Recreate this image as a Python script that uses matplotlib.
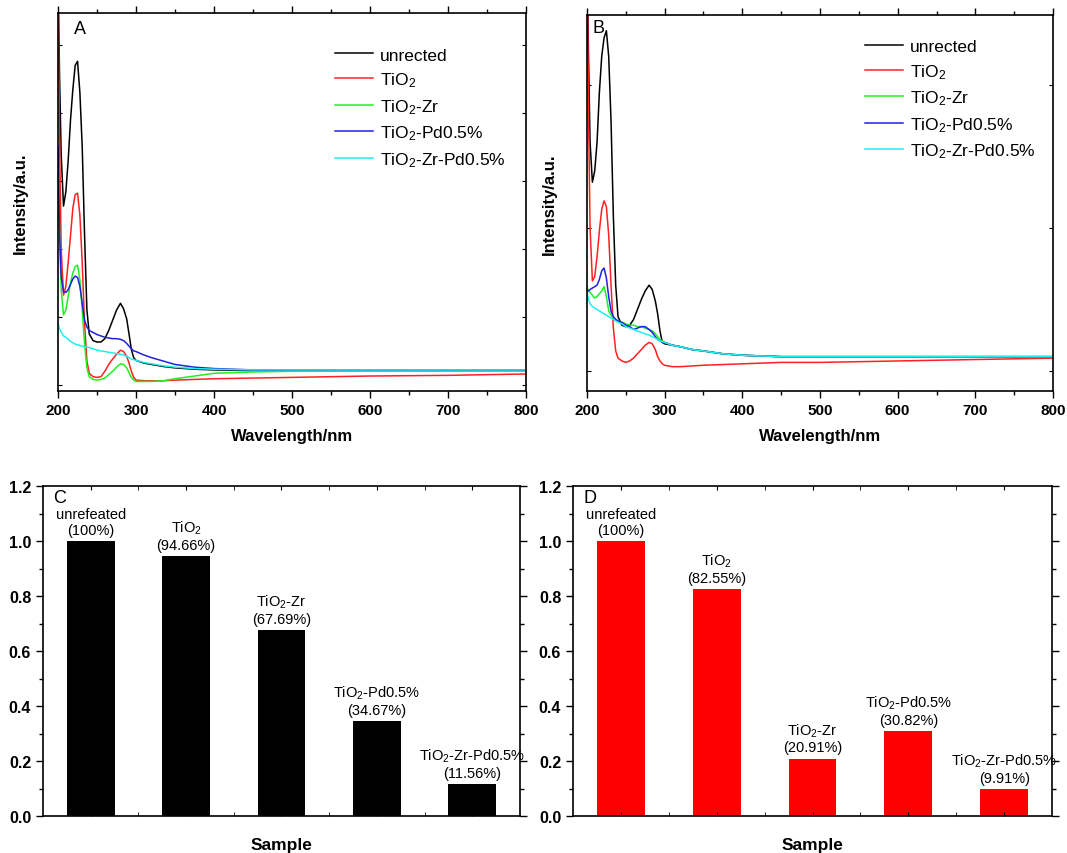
import numpy as np
import matplotlib
matplotlib.use('Agg')
import matplotlib.pyplot as plt
from matplotlib.ticker import MultipleLocator

plt.rcParams['font.family'] = ['Liberation Sans', 'DejaVu Sans']
plt.rcParams['mathtext.fontset'] = 'custom'
plt.rcParams['mathtext.rm'] = 'Liberation Sans'
plt.rcParams['mathtext.it'] = 'Liberation Sans:italic'
plt.rcParams['mathtext.bf'] = 'Liberation Sans:bold'

# UV-vis spectra (arbitrary units)
wavelength = [200, 202, 204, 207, 210, 213, 216, 219, 222, 225, 228, 231, 234, 237, 240,
              245, 250, 255, 260, 265, 270, 275, 280, 284, 288, 291, 294, 297, 300, 310,
              320, 335, 350, 375, 400, 450, 500, 600, 700, 800]

a_unreacted = [6.0, 4.5, 3.4, 2.63, 2.84, 3.3, 3.9, 4.35, 4.7, 4.76, 4.3, 3.5, 2.2, 1.1, 0.75,
               0.65, 0.63, 0.63, 0.68, 0.8, 0.95, 1.1, 1.2, 1.12, 0.97, 0.75, 0.52, 0.4, 0.36, 0.32,
               0.3, 0.27, 0.25, 0.23, 0.22, 0.21, 0.21, 0.21, 0.21, 0.21]
a_tio2 = [6.0, 3.5, 2.0, 1.32, 1.45, 1.8, 2.2, 2.6, 2.8, 2.82, 2.5, 1.8, 0.9, 0.35, 0.17,
          0.12, 0.11, 0.12, 0.2, 0.3, 0.38, 0.45, 0.51, 0.49, 0.42, 0.32, 0.2, 0.11, 0.07, 0.06,
          0.06, 0.06, 0.07, 0.08, 0.09, 0.1, 0.11, 0.13, 0.14, 0.16]
a_tio2_zr = [3.5, 2.2, 1.4, 1.03, 1.1, 1.3, 1.5, 1.65, 1.74, 1.76, 1.55, 1.1, 0.6, 0.25, 0.12,
             0.08, 0.07, 0.08, 0.1, 0.15, 0.2, 0.26, 0.31, 0.3, 0.25, 0.18, 0.11, 0.07, 0.05, 0.05,
             0.05, 0.06, 0.09, 0.13, 0.17, 0.19, 0.2, 0.21, 0.21, 0.22]
a_tio2_pd = [3.5, 2.2, 1.6, 1.37, 1.36, 1.4, 1.48, 1.56, 1.6, 1.58, 1.45, 1.2, 0.95, 0.85, 0.8,
             0.77, 0.74, 0.72, 0.7, 0.69, 0.68, 0.68, 0.67, 0.65, 0.61, 0.57, 0.53, 0.5, 0.49, 0.44,
             0.4, 0.35, 0.3, 0.26, 0.24, 0.22, 0.22, 0.22, 0.22, 0.22]
a_tio2_zr_pd = [0.9, 0.82, 0.78, 0.72, 0.7, 0.67, 0.64, 0.62, 0.6, 0.59, 0.58, 0.57, 0.56, 0.555, 0.55,
                0.53, 0.51, 0.5, 0.49, 0.48, 0.47, 0.46, 0.45, 0.44, 0.42, 0.4, 0.38, 0.37, 0.36, 0.33,
                0.31, 0.28, 0.26, 0.24, 0.23, 0.22, 0.22, 0.22, 0.22, 0.22]

b_unreacted = [3.0, 2.2, 1.6, 1.32, 1.4, 1.6, 1.95, 2.2, 2.33, 2.38, 2.2, 1.75, 1.08, 0.6, 0.38,
               0.32, 0.31, 0.32, 0.36, 0.43, 0.5, 0.56, 0.6, 0.57, 0.49, 0.4, 0.28, 0.2, 0.19, 0.18,
               0.17, 0.15, 0.14, 0.12, 0.11, 0.1, 0.1, 0.1, 0.1, 0.1]
b_tio2 = [3.0, 1.8, 1.0, 0.63, 0.66, 0.8, 0.98, 1.13, 1.19, 1.15, 0.95, 0.6, 0.3, 0.14, 0.09,
          0.07, 0.06, 0.07, 0.09, 0.12, 0.15, 0.18, 0.2, 0.19, 0.15, 0.1, 0.07, 0.05, 0.04, 0.03,
          0.03, 0.035, 0.04, 0.045, 0.05, 0.06, 0.06, 0.07, 0.08, 0.09]
b_tio2_zr = [0.59, 0.56, 0.55, 0.53, 0.51, 0.52, 0.54, 0.56, 0.59, 0.52, 0.42, 0.39, 0.37, 0.36, 0.35,
             0.34, 0.33, 0.32, 0.32, 0.31, 0.31, 0.3, 0.29, 0.28, 0.26, 0.24, 0.22, 0.21, 0.2, 0.18,
             0.17, 0.15, 0.14, 0.12, 0.11, 0.1, 0.1, 0.1, 0.1, 0.1]
b_tio2_pd = [0.56, 0.56, 0.57, 0.58, 0.59, 0.6, 0.64, 0.7, 0.72, 0.65, 0.52, 0.42, 0.38, 0.36, 0.35,
             0.34, 0.32, 0.31, 0.29, 0.3, 0.31, 0.31, 0.29, 0.27, 0.24, 0.22, 0.21, 0.2, 0.2, 0.18,
             0.17, 0.15, 0.14, 0.12, 0.11, 0.1, 0.1, 0.1, 0.1, 0.1]
b_tio2_zr_pd = [0.55, 0.5, 0.47, 0.45, 0.44, 0.43, 0.42, 0.41, 0.4, 0.39, 0.38, 0.37, 0.36, 0.35, 0.34,
                0.33, 0.31, 0.3, 0.29, 0.28, 0.27, 0.26, 0.25, 0.24, 0.23, 0.22, 0.21, 0.205, 0.2, 0.18,
                0.17, 0.15, 0.14, 0.12, 0.11, 0.1, 0.1, 0.1, 0.1, 0.1]

legend_labels = ['unrected', 'TiO$_2$', 'TiO$_2$-Zr', 'TiO$_2$-Pd0.5%', 'TiO$_2$-Zr-Pd0.5%']
line_colors = ['black', '#ff2020', '#22ee22', '#2020e0', '#22eeee']

# relative removal (bar charts)
bar_names = ['unrefeated', 'TiO$_2$', 'TiO$_2$-Zr', 'TiO$_2$-Pd0.5%', 'TiO$_2$-Zr-Pd0.5%']
c_values = [1.0, 0.9466, 0.6769, 0.3467, 0.1156]
d_values = [1.0, 0.8255, 0.2091, 0.3082, 0.0991]


def plot_spectra(ax, series, letter, ylim, legend_pos, letter_pos):
    for y, c, lab in zip(series, line_colors, legend_labels):
        ax.plot(wavelength, y, color=c, linewidth=1.1, label=lab)
    ax.set_xlim(200, 800)
    ax.set_ylim(*ylim)
    ax.xaxis.set_major_locator(MultipleLocator(100))
    ax.xaxis.set_minor_locator(MultipleLocator(50))
    ax.yaxis.set_major_locator(MultipleLocator(1.0))
    ax.tick_params(axis='x', which='both', direction='out', top=True, labelsize=11)
    ax.tick_params(axis='x', which='major', length=5, width=1)
    ax.tick_params(axis='x', which='minor', length=3, width=1)
    ax.tick_params(axis='y', which='both', direction='in', right=True, labelleft=False, length=3)
    for t in ax.get_xticklabels():
        t.set_fontweight('bold')
    ax.set_xlabel('Wavelength/nm', fontsize=12, fontweight='bold', labelpad=8)
    ax.set_ylabel('Intensity/a.u.', fontsize=12, fontweight='bold', labelpad=22)
    ax.text(letter_pos[0], letter_pos[1], letter, transform=ax.transAxes, fontsize=13,
            ha='left', va='center')
    ax.legend(loc='upper left', bbox_to_anchor=legend_pos, frameon=False, fontsize=12.5,
              handlelength=2.2, handletextpad=0.4, labelspacing=0.45, borderpad=0, borderaxespad=0)
    for s in ax.spines.values():
        s.set_linewidth(1.2)


def plot_bars(ax, values, color, letter):
    x = np.arange(1, len(values) + 1)
    ax.bar(x, values, width=0.5, color=color)
    for xi, v, name in zip(x, values, bar_names):
        pct = '(100%)' if v >= 1 else '(%.2f%%)' % (v * 100)
        ax.annotate(name + '\n' + pct, (xi, v), xytext=(0, 3), textcoords='offset points',
                    ha='center', va='bottom', fontsize=10.5, linespacing=1.15)
    ax.set_xlim(0.5, 5.5)
    ax.set_ylim(0, 1.2)
    ax.yaxis.set_major_locator(MultipleLocator(0.2))
    ax.yaxis.set_minor_locator(MultipleLocator(0.1))
    ax.set_xticks(x)
    ax.set_xticks(x[:-1] + 0.5, minor=True)
    ax.tick_params(axis='x', which='both', direction='in', top=True, labelbottom=False, length=3)
    ax.tick_params(axis='y', which='both', direction='out', right=True, labelsize=11.5)
    ax.tick_params(axis='y', which='major', length=5, width=1)
    ax.tick_params(axis='y', which='minor', length=3, width=1)
    ax.yaxis.set_major_formatter(matplotlib.ticker.FormatStrFormatter('%.1f'))
    for t in ax.get_yticklabels():
        t.set_fontweight('bold')
    ax.set_xlabel('Sample', fontsize=12.5, fontweight='bold', labelpad=15)
    ax.text(0.022, 0.964, letter, transform=ax.transAxes, fontsize=13, ha='left', va='center')
    for s in ax.spines.values():
        s.set_linewidth(1.2)


fig = plt.figure(figsize=(10.67, 8.54), dpi=100)
ax_a = fig.add_axes([0.0544, 0.541, 0.4386, 0.4426])
ax_b = fig.add_axes([0.5501, 0.541, 0.4368, 0.4403])
ax_c = fig.add_axes([0.0403, 0.0433, 0.4470, 0.3864])
ax_d = fig.add_axes([0.5370, 0.0433, 0.4490, 0.3864])

plot_spectra(ax_a, [a_unreacted, a_tio2, a_tio2_zr, a_tio2_pd, a_tio2_zr_pd], 'A',
             (-0.09, 5.47), (0.592, 0.909), (0.034, 0.958))
plot_spectra(ax_b, [b_unreacted, b_tio2, b_tio2_zr, b_tio2_pd, b_tio2_zr_pd], 'B',
             (-0.14, 2.49), (0.597, 0.936), (0.011, 0.968))
plot_bars(ax_c, c_values, 'black', 'C')
plot_bars(ax_d, d_values, '#ff0000', 'D')

fig.savefig('out.png', dpi=100)
